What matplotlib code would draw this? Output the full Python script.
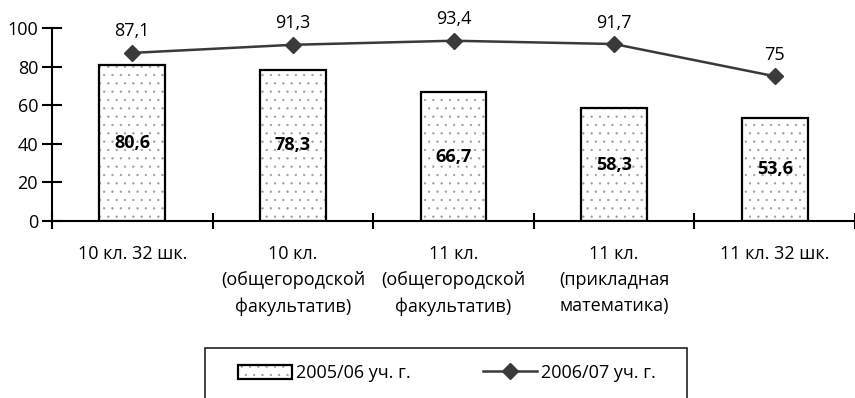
import matplotlib
matplotlib.use("Agg")
import matplotlib.pyplot as plt
from matplotlib.patches import Rectangle
import numpy as np

plt.rcParams['font.family'] = ['Open Sans', 'DejaVu Sans']
plt.rcParams['hatch.linewidth'] = 0.4

categories = ["10 кл. 32 шк.", "10 кл.\n(общегородской\nфакультатив)",
              "11 кл.\n(общегородской\nфакультатив)", "11 кл.\n(прикладная\nматематика)",
              "11 кл. 32 шк."]
series_2005 = [80.6, 78.3, 66.7, 58.3, 53.6]
series_2006 = [87.1, 91.3, 93.4, 91.7, 75]
labels_2005 = ["80,6", "78,3", "66,7", "58,3", "53,6"]
labels_2006 = ["87,1", "91,3", "93,4", "91,7", "75"]
legend_names = ["2005/06 уч. г.", "2006/07 уч. г."]
yticks = [0, 20, 40, 60, 80, 100]

FS = 13
fig = plt.figure(figsize=(8.55, 3.98), dpi=100)
ax = fig.add_axes([52/855, 1-221/398, 1-52/855, (221-28)/398])

x = np.arange(len(categories))
bars_fill = ax.bar(x, series_2005, width=0.41, facecolor='white', edgecolor='#9a9a9a',
                   linewidth=0, hatch='..', zorder=2)
bars = ax.bar(x, series_2005, width=0.41, fill=False, edgecolor='black',
              linewidth=1.6, zorder=2.5)
line, = ax.plot(x, series_2006, color='#3a3a3a', linewidth=1.8, marker='D',
                markersize=8.5, zorder=3)

for xi, v, t in zip(x, series_2005, labels_2005):
    ax.text(xi, v/2, t, ha='center', va='center', fontsize=FS, fontweight='bold', zorder=4)
for xi, v, t in zip(x, series_2006, labels_2006):
    ax.annotate(t, (xi, v), xytext=(0, 9), textcoords='offset points',
                ha='center', va='bottom', fontsize=FS)

ax.set_xlim(-0.5, len(categories)-0.5)
ax.set_ylim(0, 100)
ax.set_yticks(yticks)
ax.set_yticklabels([str(t) for t in yticks], fontsize=FS)
ax.set_xticks(np.arange(len(categories)+1)-0.5)
ax.set_xticklabels([])
ax.set_xticks(x, minor=True)
ax.set_xticklabels(categories, minor=True, fontsize=FS, linespacing=1.6, va='top')
ax.tick_params(axis='x', which='minor', length=0, pad=17)
ax.tick_params(axis='x', which='major', direction='inout', length=11, width=1.5)
ax.tick_params(axis='y', direction='inout', length=14, width=1.5, pad=3)
for s in ['top', 'right']:
    ax.spines[s].set_visible(False)
for s in ['left', 'bottom']:
    ax.spines[s].set_linewidth(1.5)
ax.patch.set_alpha(0)

# legend frame
fig.patches.append(Rectangle((205/855, -0.05), (687-205)/855, (398-348)/398+0.05,
                             transform=fig.transFigure, facecolor='white',
                             edgecolor='#222222', linewidth=1.2))
fig.legend(handles=[(bars_fill[0], bars[0]), line], labels=legend_names, loc='center',
           bbox_to_anchor=(447/855, 1-373/398), ncol=2, frameon=False,
           fontsize=FS, handlelength=3.0, handleheight=0.8, handletextpad=0.2,
           columnspacing=4.0)

fig.savefig("out.png", dpi=100)
